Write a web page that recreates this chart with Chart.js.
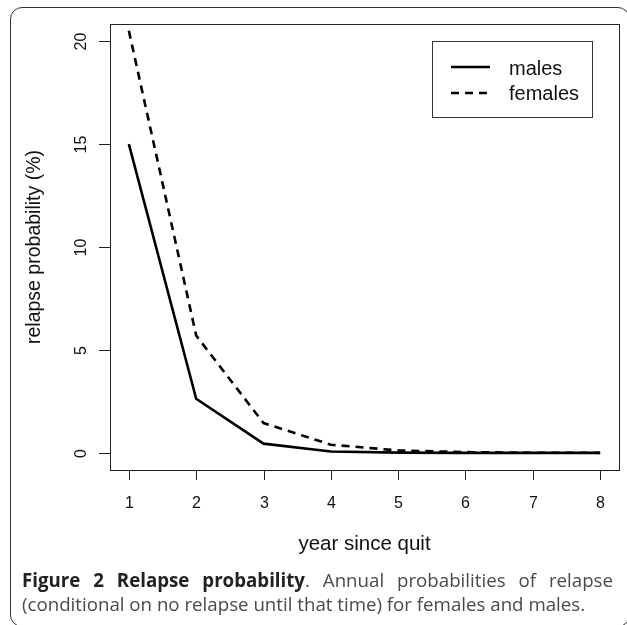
<!DOCTYPE html>
<html>
<head>
<meta charset="utf-8">
<script src="https://cdn.jsdelivr.net/npm/chart.js@4.4.1/dist/chart.umd.min.js"></script>
<style>
  html, body { margin: 0; padding: 0; background: #fff; overflow: hidden; }
  #wrap { position: relative; width: 627px; height: 625px; }
  #frame { position: absolute; left: 10px; top: 7px; width: 620px; height: 620px;
           border: 1.3px solid #333; border-radius: 12px; box-sizing: border-box; }
  canvas { position: absolute; left: 0; top: 0; }
  .cap { position: absolute; left: 22px; width: 591px; font-family: "Open Sans", sans-serif;
         font-size: 18.7px; line-height: 24px; color: #4a4a4a; white-space: nowrap; }
  .cap b { color: #222; font-weight: 700; }
  #cap1 { top: 568px; text-align: justify; text-align-last: justify; white-space: normal; }
  #cap2 { top: 592px; }
</style>
</head>
<body>
<div id="wrap">
  <div id="frame"></div>
  <canvas id="c" width="627" height="625"></canvas>
  <div class="cap" id="cap1"><b>Figure 2 Relapse probability</b>. Annual probabilities of relapse</div>
  <div class="cap" id="cap2">(conditional on no relapse until that time) for females and males.</div>
</div>
<script>
const years = [1, 2, 3, 4, 5, 6, 7, 8];
const males = [15.0, 2.63, 0.45, 0.07, 0.015, 0.004, 0.001, 0.0];
const females = [20.5, 5.7, 1.45, 0.4, 0.12, 0.04, 0.01, 0.004];
const xTickLabels = ['1', '2', '3', '4', '5', '6', '7', '8'];
const yTickValues = [0, 5, 10, 15, 20];
const xTitle = 'year since quit';
const yTitle = 'relapse probability (%)';

const FONT = '"Liberation Sans", Arial, Helvetica, sans-serif';
const DASH = [8, 6];

const axesPlugin = {
  id: 'rAxes',
  afterDraw(chart) {
    const ctx = chart.ctx;
    const a = chart.chartArea;
    const xs = chart.scales.x, ys = chart.scales.y;
    ctx.save();
    ctx.strokeStyle = '#222';
    ctx.fillStyle = '#111';
    ctx.lineWidth = 1;
    ctx.strokeRect(Math.round(a.left) + 0.5, Math.round(a.top) + 0.5,
                   Math.round(a.right - a.left), Math.round(a.bottom - a.top));
    ctx.font = '16px ' + FONT;
    ctx.textAlign = 'center';
    ctx.textBaseline = 'alphabetic';
    years.forEach((v, i) => {
      const px = Math.round(xs.getPixelForValue(v)) + 0.5;
      ctx.beginPath();
      ctx.moveTo(px, a.bottom);
      ctx.lineTo(px, a.bottom + 10);
      ctx.stroke();
      ctx.fillText(xTickLabels[i], px, 508);
    });
    yTickValues.forEach(v => {
      const py = Math.round(ys.getPixelForValue(v)) + 0.5;
      ctx.beginPath();
      ctx.moveTo(a.left, py);
      ctx.lineTo(a.left - 11, py);
      ctx.stroke();
      ctx.save();
      ctx.translate(86, py);
      ctx.rotate(-Math.PI / 2);
      ctx.fillText(String(v), 0, 0);
      ctx.restore();
    });
    ctx.font = '20.5px ' + FONT;
    ctx.fillText(xTitle, (a.left + a.right) / 2, 550);
    ctx.font = '19.5px ' + FONT;
    ctx.save();
    ctx.translate(40, (a.top + a.bottom) / 2);
    ctx.rotate(-Math.PI / 2);
    ctx.fillText(yTitle, 0, 0);
    ctx.restore();
    // legend
    ctx.strokeStyle = '#333';
    ctx.strokeRect(432.5, 41.5, 160, 76);
    ctx.font = '20px ' + FONT;
    const rowsY = [67, 93];
    const textY = [74.5, 99.5];
    ctx.textAlign = 'left';
    chart.data.datasets.forEach((ds, i) => {
      ctx.strokeStyle = '#000';
      ctx.lineWidth = 2.5;
      ctx.setLineDash(ds.borderDash || []);
      ctx.beginPath();
      ctx.moveTo(451, rowsY[i]);
      ctx.lineTo(490, rowsY[i]);
      ctx.stroke();
      ctx.setLineDash([]);
      ctx.fillStyle = '#111';
      ctx.fillText(ds.label, 509, textY[i]);
    });
    ctx.restore();
  }
};

new Chart(document.getElementById('c'), {
  type: 'line',
  data: {
    datasets: [
      { label: 'males', data: years.map((x, i) => ({ x, y: males[i] })),
        borderColor: '#000', borderWidth: 2.6, pointRadius: 0, tension: 0, fill: false },
      { label: 'females', data: years.map((x, i) => ({ x, y: females[i] })),
        borderColor: '#000', borderWidth: 2.6, borderDash: DASH, pointRadius: 0, tension: 0, fill: false }
    ]
  },
  options: {
    responsive: false,
    animation: false,
    devicePixelRatio: 1,
    layout: { padding: { left: 110, right: 8, top: 24, bottom: 155 } },
    scales: {
      x: { type: 'linear', min: 0.72, max: 8.28, display: false },
      y: { type: 'linear', min: -0.83, max: 20.83, display: false }
    },
    plugins: { legend: { display: false }, tooltip: { enabled: false }, title: { display: false } }
  },
  plugins: [axesPlugin]
});
</script>
</body>
</html>
